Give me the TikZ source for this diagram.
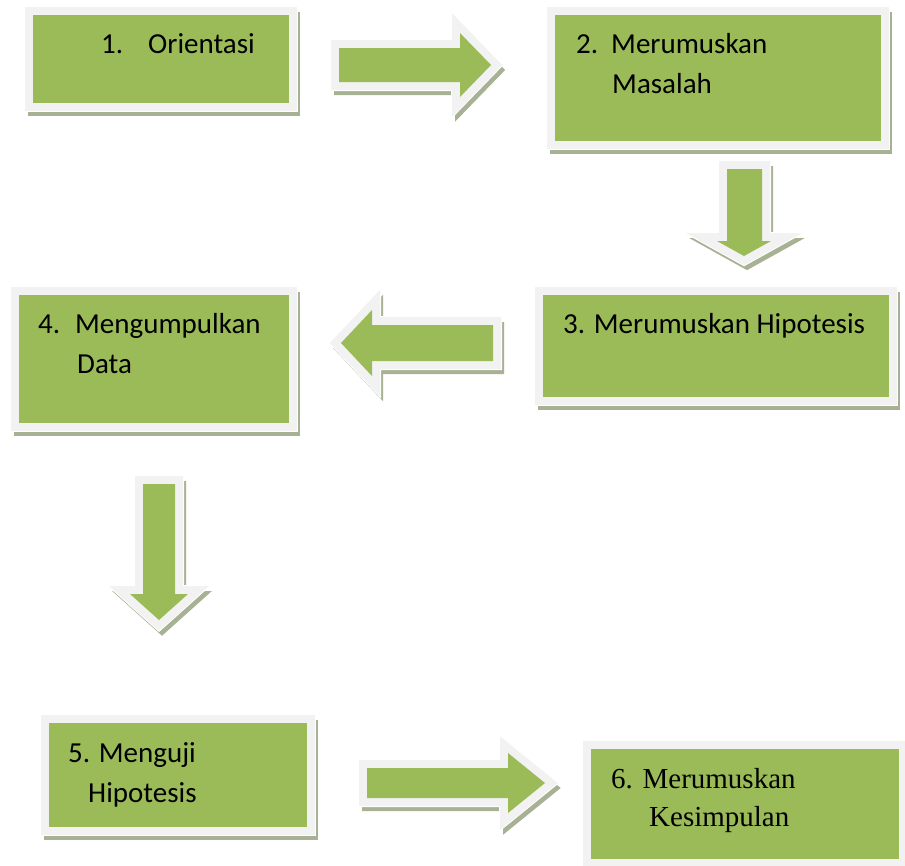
\documentclass[tikz,border=0pt]{standalone}
\usepackage{fontspec}
\setmainfont{Carlito}
\newfontfamily\timesf{Liberation Serif}
\definecolor{boxgreen}{HTML}{9BBB59}
\definecolor{framec}{HTML}{F2F2F2}
\definecolor{shadowc}{HTML}{A7B193}
\tikzset{
  block/.style={fill=boxgreen, line join=miter,
    preaction={draw=shadowc, fill=shadowc, line width=16pt, line join=miter,
               transform canvas={shift={(3pt,-5pt)}}},
    preaction={draw=white, line width=18pt, line join=miter},
    preaction={draw=framec, line width=16pt, line join=miter}},
  stepbox/.style={block, anchor=north west, inner sep=0pt, outer sep=0pt},
  lbl/.style={anchor=base west, inner sep=0pt, font=\fontsize{29}{34}\selectfont, text=black},
  lblt/.style={lbl, font=\fontsize{29}{34}\selectfont\timesf}
}
\begin{document}
\begin{tikzpicture}[x=1pt, y=-1pt]
\useasboundingbox (0,0) rectangle (905,865);
% boxes
\node[stepbox, minimum width=256pt, minimum height=88pt]  (b1) at (33,15)  {};
\node[stepbox, minimum width=326pt, minimum height=126pt] (b2) at (555,15) {};
\node[stepbox, minimum width=346pt, minimum height=102pt] (b3) at (543,295) {};
\node[stepbox, minimum width=270pt, minimum height=128pt] (b4) at (19,295) {};
\node[stepbox, minimum width=258pt, minimum height=104pt] (b5) at (49,723) {};
\node[stepbox, minimum width=308pt, minimum height=110pt] (b6) at (591,749) {};
% block arrows
\path[block] (339,48) -- (460,48) -- (460,33) -- (491,65) -- (460,97) -- (460,82) -- (339,82) -- cycle;
\path[block] (727,169) -- (762,169) -- (762,241) -- (771,241) -- (744,256) -- (717,241) -- (727,241) -- cycle;
\path[block] (493,325) -- (372,325) -- (372,310) -- (341,343) -- (372,376) -- (372,361) -- (493,361) -- cycle;
\path[block] (143,484) -- (175,484) -- (175,594) -- (188,594) -- (159,620) -- (130,594) -- (143,594) -- cycle;
\path[block] (367,768) -- (508,768) -- (508,753) -- (545,783) -- (508,813) -- (508,798) -- (367,798) -- cycle;
% texts
\node[lbl] (t1n) at (101,53) {1.};
\node[lbl] (t1)  at (148,53) {Orientasi};
\node[lbl] (t2n) at (576,53) {2.};
\node[lbl] (t2a) at (611,53) {Merumuskan};
\node[lbl] (t2b) at (612,93) {Masalah};
\node[lbl] (t3)  at (563,333) {3. Merumuskan Hipotesis};
\node[lbl] (t4n) at (38,333) {4.};
\node[lbl] (t4a) at (75,333) {Mengumpulkan};
\node[lbl] (t4b) at (77,373) {Data};
\node[lbl] (t5a) at (68,762) {5. Menguji};
\node[lbl] (t5b) at (88,802) {Hipotesis};
\node[lblt] (t6a) at (611,788) {6. Merumuskan};
\node[lblt] (t6b) at (649,826) {Kesimpulan};
\end{tikzpicture}
\end{document}
